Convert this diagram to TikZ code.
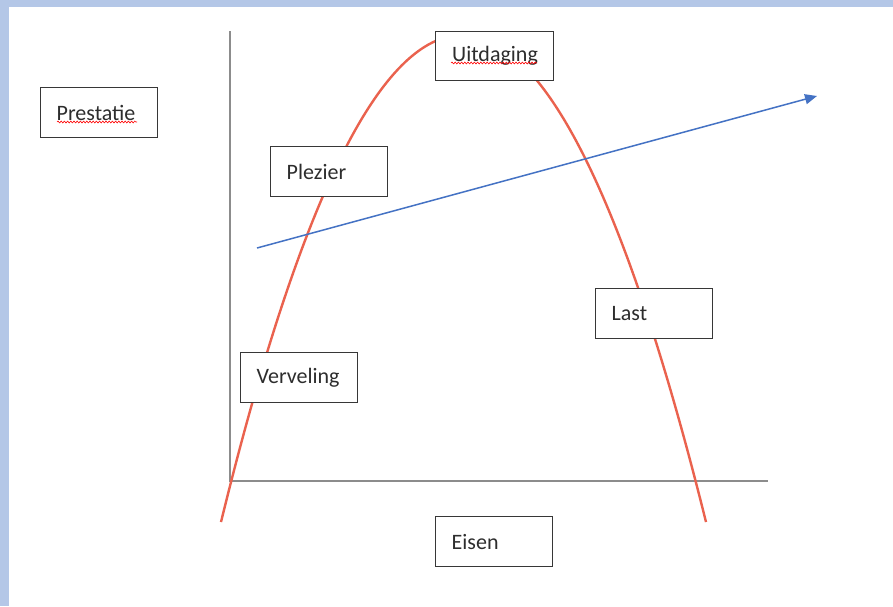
\documentclass[tikz,border=0pt]{standalone}
\usepackage{fontspec}
\setmainfont{Carlito}
\usetikzlibrary{arrows.meta,decorations.pathmorphing}
\definecolor{frameblue}{RGB}{180,199,231}
\definecolor{curvered}{RGB}{234,98,78}
\definecolor{arrowblue}{RGB}{68,114,196}
\definecolor{axisgray}{RGB}{140,140,140}
\definecolor{boxline}{RGB}{55,55,55}
\definecolor{txt}{RGB}{45,45,45}
\tikzset{
  lbl/.style={draw=boxline, line width=1.4pt, fill=white, anchor=north west,
    minimum width=117pt, minimum height=50pt, inner xsep=16pt, inner ysep=0pt,
    text=txt, font=\fontsize{22}{24}\selectfont},
  axis/.style={draw=axisgray, line width=1.8pt},
  spell/.style={draw=red, line width=0.6pt, decorate,
    decoration={snake, amplitude=0.9pt, segment length=3.2pt}}
}
\newcommand{\lbltext}[1]{\makebox[85pt][l]{#1}}
\begin{document}
\begin{tikzpicture}[x=1pt,y=-1pt]
\useasboundingbox (0,0) rectangle (893,606);
\fill[white] (0,0) rectangle (893,606);
\fill[frameblue] (0,0) rectangle (893,6.5);
\fill[frameblue] (0,0) rectangle (8.5,606);
% axes
\coordinate (o) at (230,481);
\coordinate (ytop) at (230,31);
\coordinate (xend) at (768,481);
\draw[axis] (ytop) -- (o) -- (xend);
% curve
\coordinate (cs) at (221,522);
\coordinate (ce) at (706,522);
\draw[curvered, line width=2.4pt] (cs) .. controls (380,-127.3) and (544.3,-127.3) .. (ce);
% arrow
\coordinate (as) at (257,248);
\coordinate (ae) at (817,96);
\draw[arrowblue, line width=1.5pt, -{Triangle[length=12pt,width=10pt]}] (as) -- (ae);
% boxes
\node[lbl] (prestatie) at (40,87) {\lbltext{Prestatie}};
\node[lbl, minimum width=118pt, minimum height=49pt] (uitdaging) at (435,31) {\lbltext{Uitdaging}};
\node[lbl] (plezier) at (270,146) {\lbltext{Plezier}};
\node[lbl] (verveling) at (240,352) {\lbltext{Verveling}};
\node[lbl] (last) at (595,288) {\lbltext{Last}};
\node[lbl] (eisen) at (435,516) {\lbltext{Eisen}};
% spell-check underlines
\coordinate (u1a) at (57,122);
\coordinate (u1b) at (137,122);
\coordinate (u2a) at (451,63);
\coordinate (u2b) at (537,63);
\draw[spell] (u1a) -- (u1b);
\draw[spell] (u2a) -- (u2b);
\end{tikzpicture}
\end{document}
